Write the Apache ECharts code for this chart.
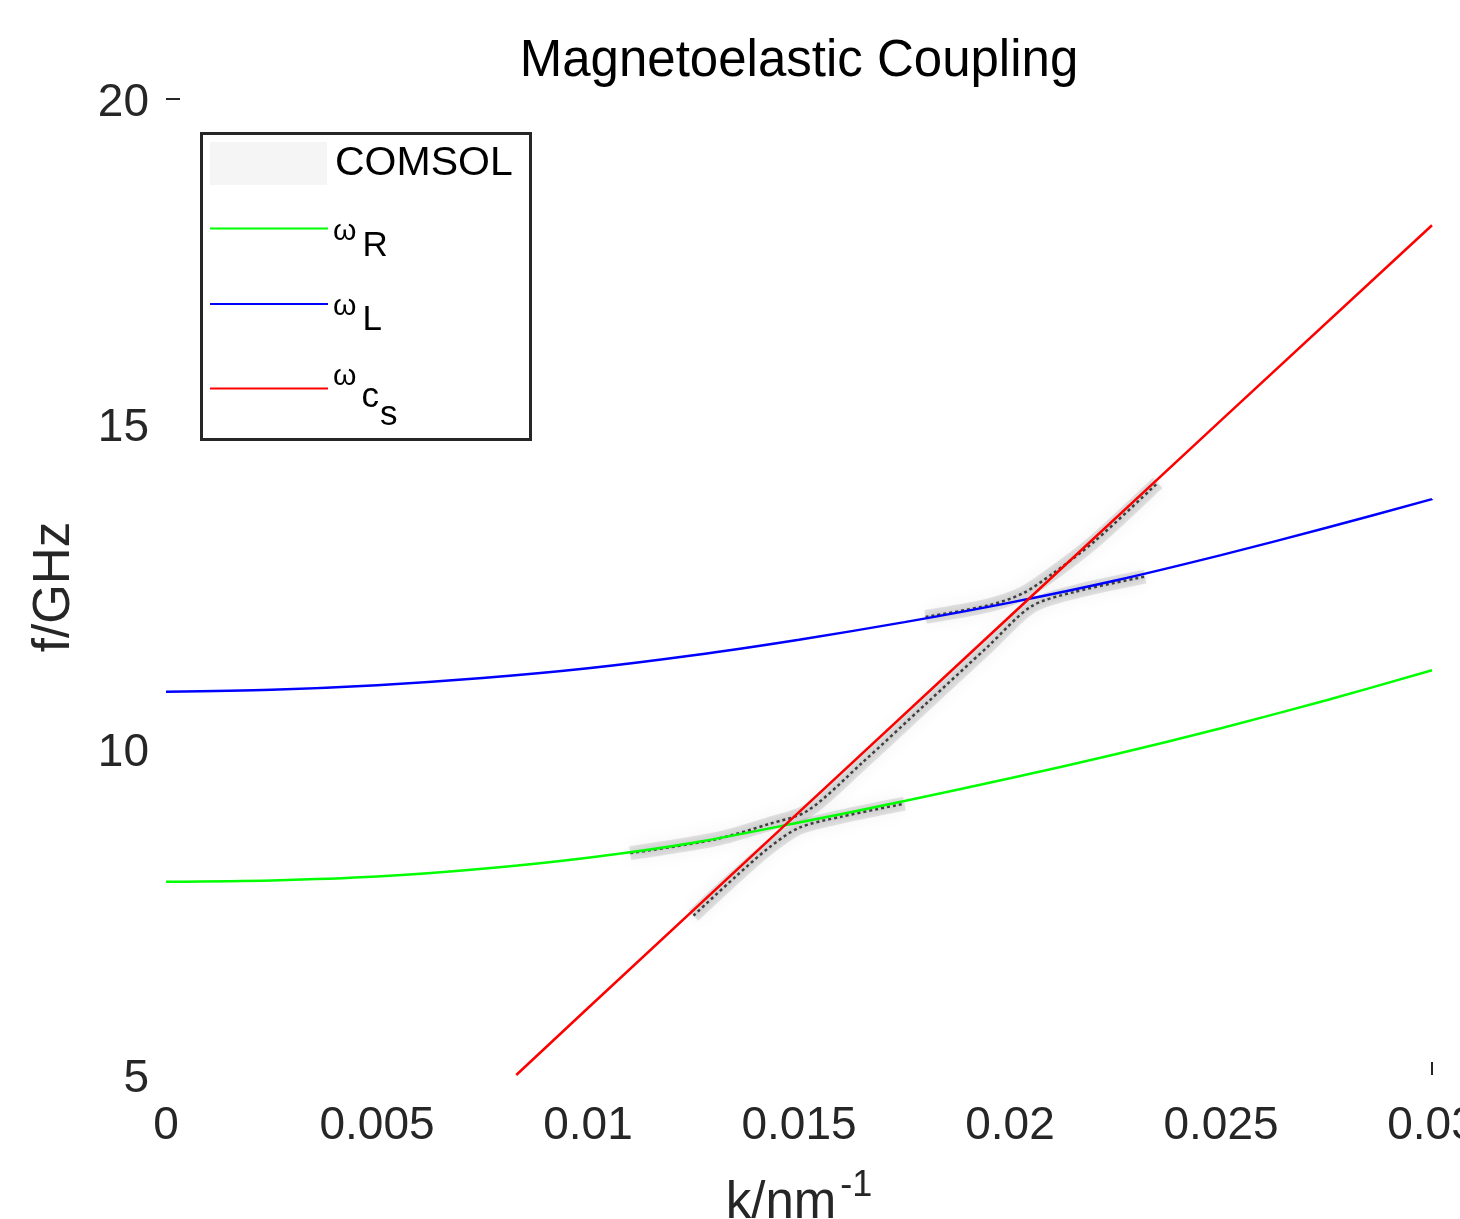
<!DOCTYPE html>
<html><head><meta charset="utf-8">
<script src="https://cdn.jsdelivr.net/npm/echarts@6/dist/echarts.min.js"></script>
<style>html,body{margin:0;padding:0;background:#fff}#c{width:1460px;height:1219px}</style>
</head><body><div id="c"></div>
<script>
const FONT = '"Liberation Sans", Arial, Helvetica, sans-serif';

// ---- data ----
const kValues = [0, 0.0025, 0.005, 0.0075, 0.01, 0.0125, 0.015, 0.0175, 0.02, 0.0225, 0.025, 0.0275, 0.03];
const omegaR  = [7.97, 7.99, 8.05, 8.17, 8.34, 8.57, 8.88, 9.21, 9.56, 9.93, 10.33, 10.76, 11.22];
const omegaL  = [10.89, 10.92, 10.99, 11.10, 11.25, 11.45, 11.69, 11.96, 12.26, 12.60, 12.99, 13.41, 13.85];
const kCs     = [0.0083, 0.01, 0.015, 0.02, 0.025, 0.03];
const omegaCs = [5.00, 6.03, 9.04, 12.05, 15.06, 18.06];

// COMSOL simulated branches (visible only near the crossings)
const comsolLowerK  = [0.0125, 0.0135, 0.0143, 0.0150, 0.0160, 0.0175];
const comsolLowerF  = [7.45, 8.05, 8.50, 8.80, 8.97, 9.17];
const comsolMiddleK = [0.0110, 0.0130, 0.0143, 0.0152, 0.0165, 0.0180, 0.0195, 0.0205, 0.0215, 0.0232];
const comsolMiddleF = [8.41, 8.62, 8.86, 9.06, 9.80, 10.70, 11.60, 12.20, 12.42, 12.66];
const comsolUpperK  = [0.0180, 0.0195, 0.0203, 0.0210, 0.0220, 0.0235];
const comsolUpperF  = [12.04, 12.22, 12.40, 12.70, 13.20, 14.10];

const xTickLabels = [0, 0.005, 0.01, 0.015, 0.02, 0.025, 0.03];
const yTickLabels = [5, 10, 15, 20];
const legendNames = ['COMSOL', 'ωR', 'ωL', 'ωcs'];

const pairs = (ks, fs) => ks.map((k, i) => [k, fs[i]]);

const comsolHalo = {
  type: 'line', name: 'COMSOL', smooth: 0.3, symbol: 'none', silent: true,
  lineStyle: { color: 'rgba(0,0,0,0.10)', width: 14, shadowBlur: 18, shadowColor: 'rgba(0,0,0,0.45)' },
  itemStyle: { color: '#f5f5f5' }, z: 1
};
const comsolCore = {
  type: 'line', name: 'COMSOL', smooth: 0.3, symbol: 'none', silent: true,
  lineStyle: { color: 'rgba(25,25,25,0.8)', width: 2.5, type: [3, 3], shadowBlur: 6, shadowColor: 'rgba(0,0,0,0.5)' },
  itemStyle: { color: '#f5f5f5' }, z: 1
};

const chart = echarts.init(document.getElementById('c'), null, { renderer: 'canvas' });

const lineIcon = 'rect';
const wTok = { fontFamily: FONT, fontSize: 30, color: '#000', lineHeight: 30 };
const sTok = { fontFamily: FONT, fontSize: 35, color: '#000', lineHeight: 35 };

chart.setOption({
  animation: false,
  backgroundColor: '#fff',
  title: {
    text: 'Magnetoelastic Coupling', left: 799, top: 36, textAlign: 'center', padding: 0,
    textStyle: { fontFamily: FONT, fontSize: 51, fontWeight: 'normal', color: '#000', lineHeight: 51 }
  },
  grid: { left: 166, right: 28, top: 99, bottom: 144, containLabel: false, outerBoundsMode: 'none' },
  xAxis: {
    type: 'value', min: 0, max: 0.03, interval: 0.005,
    axisLine: { show: false },
    splitLine: { show: false },
    axisTick: { show: true, inside: true, length: 13, customValues: [0.03], lineStyle: { color: '#262626', width: 2 } },
    axisLabel: { customValues: xTickLabels, showMaxLabel: true, fontFamily: FONT, fontSize: 46, color: '#262626', margin: 28, lineHeight: 46 },
    name: '{m|k/nm}{sup|-1}', nameLocation: 'middle', nameGap: 99,
    nameTextStyle: {
      rich: {
        m: { fontFamily: FONT, fontSize: 51, color: '#262626', lineHeight: 60 },
        sup: { fontFamily: FONT, fontSize: 36, color: '#262626', lineHeight: 60, padding: [0, 0, 36, 4] }
      }
    }
  },
  yAxis: {
    type: 'value', min: 5, max: 20, interval: 5,
    axisLine: { show: false },
    splitLine: { show: false },
    axisTick: { show: true, inside: true, length: 14, customValues: [20], lineStyle: { color: '#262626', width: 2 } },
    axisLabel: {
      customValues: yTickLabels, margin: 17,
      formatter: '{v|{value}}',
      rich: { v: { fontFamily: FONT, fontSize: 46, color: '#262626', lineHeight: 46, padding: [8, 0, 0, 0] } }
    },
    name: 'f/GHz', nameLocation: 'middle', nameGap: 86,
    nameTextStyle: { fontFamily: FONT, fontSize: 51, color: '#262626', lineHeight: 51 }
  },
  legend: [
    {
      left: 210, top: 142, padding: 0, orient: 'vertical', selectedMode: false,
      itemWidth: 117, itemHeight: 43,
      data: [{ name: legendNames[0], icon: 'rect', itemStyle: { color: '#f5f5f5', borderWidth: 0 } }],
      textStyle: { fontFamily: FONT, fontSize: 41, color: '#000', lineHeight: 43, padding: [0, 0, 0, 3] }
    },
    {
      left: 210, top: 193, padding: 0, selectedMode: false,
      itemWidth: 118, itemHeight: 2,
      data: [{ name: legendNames[1], icon: lineIcon, itemStyle: { color: '#00ff00', borderWidth: 0 } }],
      formatter: () => '{w|ω}{s|R}',
      textStyle: { rich: { w: Object.assign({ padding: [6, 0, 0, 0] }, wTok), s: Object.assign({ padding: [36, 0, 0, 6] }, sTok) } }
    },
    {
      left: 210, top: 270, padding: 0, selectedMode: false,
      itemWidth: 118, itemHeight: 2,
      data: [{ name: legendNames[2], icon: lineIcon, itemStyle: { color: '#0000ff', borderWidth: 0 } }],
      formatter: () => '{w|ω}{s|L}',
      textStyle: { rich: { w: Object.assign({ padding: [6, 0, 0, 0] }, wTok), s: Object.assign({ padding: [33, 0, 0, 6] }, sTok) } }
    },
    {
      left: 210, top: 344, padding: 0, selectedMode: false,
      itemWidth: 118, itemHeight: 2,
      data: [{ name: legendNames[3], icon: lineIcon, itemStyle: { color: '#ff0000', borderWidth: 0 } }],
      formatter: () => '{w|ω}{c|c}{s|s}',
      textStyle: {
        rich: {
          w: Object.assign({ padding: [0, 0, 24, 0] }, wTok),
          c: Object.assign({ padding: [18, 0, 0, 5] }, sTok),
          s: Object.assign({ padding: [54, 0, 0, 1] }, sTok)
        }
      }
    }
  ],
  graphic: [{
    type: 'rect', left: 199, top: 131, z: 10, silent: true,
    shape: { width: 329, height: 306 },
    style: { fill: 'none', stroke: '#262626', lineWidth: 3 }
  }],
  series: [
    Object.assign({ data: pairs(comsolLowerK, comsolLowerF) }, comsolHalo),
    Object.assign({ data: pairs(comsolMiddleK, comsolMiddleF) }, comsolHalo),
    Object.assign({ data: pairs(comsolUpperK, comsolUpperF) }, comsolHalo),
    Object.assign({ data: pairs(comsolLowerK, comsolLowerF) }, comsolCore),
    Object.assign({ data: pairs(comsolMiddleK, comsolMiddleF) }, comsolCore),
    Object.assign({ data: pairs(comsolUpperK, comsolUpperF) }, comsolCore),
    { type: 'line', name: legendNames[1], data: pairs(kValues, omegaR), smooth: 0.3, symbol: 'none', z: 2,
      lineStyle: { color: '#00ff00', width: 2.5 }, itemStyle: { color: '#00ff00' } },
    { type: 'line', name: legendNames[2], data: pairs(kValues, omegaL), smooth: 0.3, symbol: 'none', z: 2,
      lineStyle: { color: '#0000ff', width: 2.5 }, itemStyle: { color: '#0000ff' } },
    { type: 'line', name: legendNames[3], data: pairs(kCs, omegaCs), symbol: 'none', z: 3,
      lineStyle: { color: '#ff0000', width: 2.5 }, itemStyle: { color: '#ff0000' } }
  ]
});
</script>
</body></html>
